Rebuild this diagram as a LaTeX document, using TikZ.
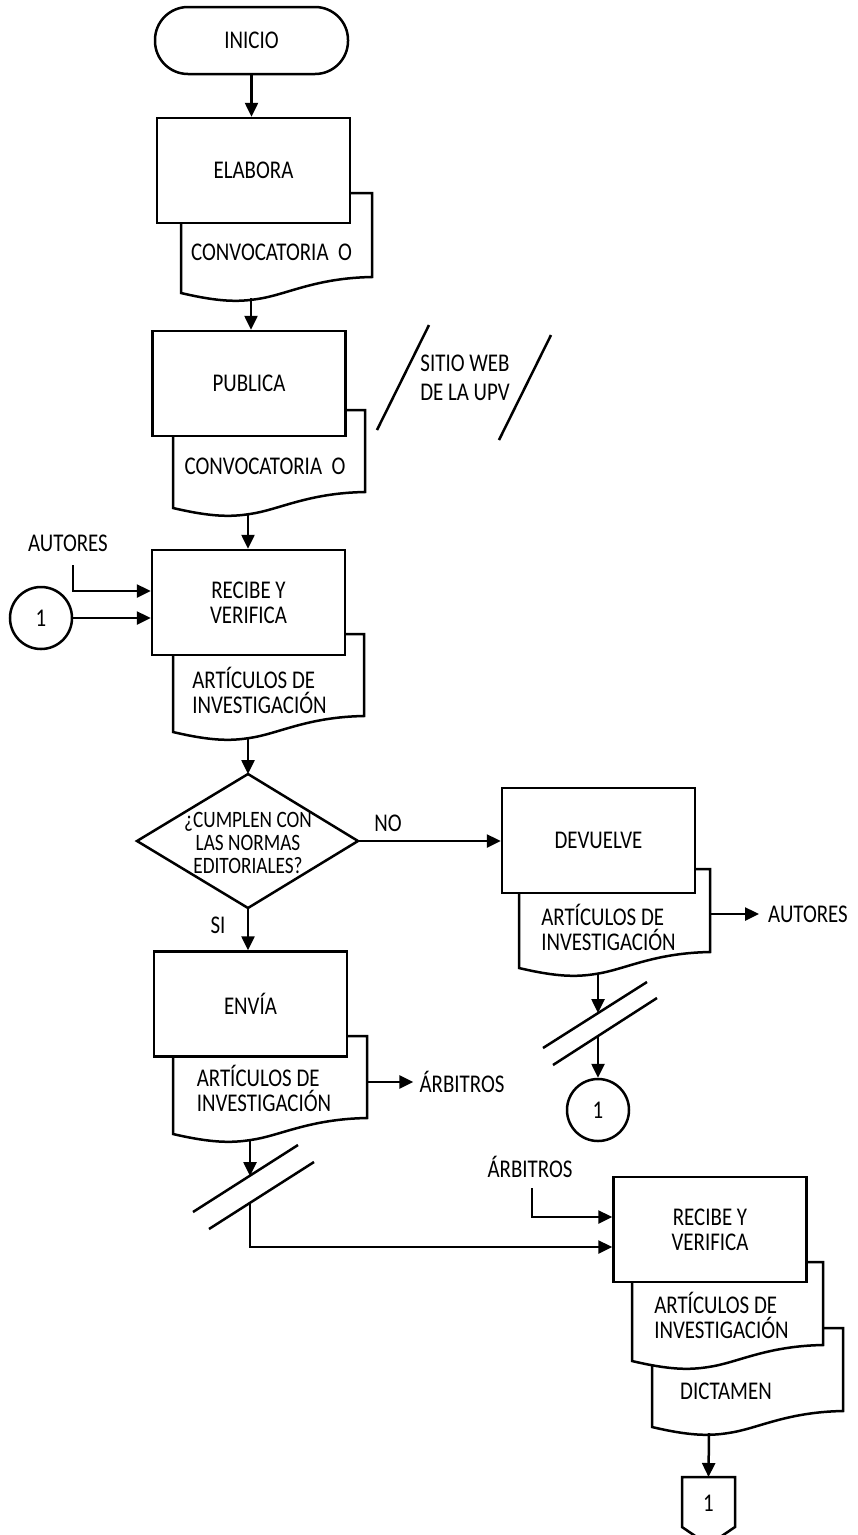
\documentclass[tikz,border=0pt]{standalone}
\usepackage{fontspec}
\setmainfont{Carlito}[FakeStretch=0.82]
\usetikzlibrary{arrows.meta}

% Document symbol: flat top, wavy bottom (left, top, right, bottom-left y)
\newcommand{\flowdoc}[4]{%
  \draw[shape line] (#1,#2) -- (#3,#2) -- (#3,#4-16)
    .. controls ({#1+0.7*(#3-#1)},#4-15) and ({#1+0.55*(#3-#1)},#4+2) .. ({#1+0.4*(#3-#1)},#4+6)
    .. controls ({#1+0.3*(#3-#1)},#4+9) and ({#1+0.2*(#3-#1)},#4+9) .. (#1,#4) -- cycle;
}

\begin{document}
\begin{tikzpicture}[x=1pt,y=-1pt,
  every node/.style={font=\fontsize{25.5}{25}\selectfont, inner sep=0pt},
  shape line/.style={draw=black, line width=2.5pt, fill=white, line join=miter},
  plain line/.style={draw=black, line width=2.5pt},
  flow/.style={plain line, -{Triangle[length=14pt,width=13pt]}},
  procbox/.style={shape line, rectangle, minimum width=193pt, minimum height=105pt, align=center},
  terminal/.style={shape line, rectangle, rounded corners=33pt, minimum width=193pt, minimum height=67pt},
  connector/.style={shape line, circle, minimum size=62pt},
  doctext/.style={align=left},
]
\useasboundingbox (0,0) rectangle (858,1535);

% ---------- start ----------
\node[terminal] (inicio) at (251.5,40.5) {INICIO};

% ---------- ELABORA ----------
\flowdoc{181}{193}{372}{293}
\node (conv1) at (271.5,252) {CONVOCATORIA\ \ O};
\node[procbox] (elabora) at (253.5,170.5) {ELABORA};
\coordinate (d1out) at (251,298);

% ---------- PUBLICA ----------
\flowdoc{173}{410}{365}{508}
\node (conv2) at (265,466) {CONVOCATORIA\ \ O};
\node[procbox] (publica) at (249,383.5) {PUBLICA};
\coordinate (d2out) at (248,513);

% web site (input/output symbol as two slanted strokes)
\draw[plain line] (429,325) -- (377,430);
\draw[plain line] (551,335) -- (499,440);
\node[align=center, font=\fontsize{25.5}{29}\selectfont] (web) at (465,377.5) {SITIO WEB\\DE LA UPV};

% ---------- RECIBE Y VERIFICA (1) ----------
\flowdoc{173}{634}{364}{732}
\node[doctext] (art1) at (259.5,690) {ARTÍCULOS DE\\INVESTIGACIÓN};
\node[procbox] (recibe1) at (248.5,602.5) {RECIBE Y\\VERIFICA};
\coordinate (d3out) at (248,737);

\node (autores1) at (68,543) {AUTORES};
\coordinate (a1) at (73,565);
\node[connector] (c1) at (41,618) {1};

% ---------- decision ----------
\coordinate (dt) at (248,774);
\coordinate (dr) at (358,841);
\coordinate (db) at (248,908);
\coordinate (dl) at (137,841);
\draw[shape line] (dt) -- (dr) -- (db) -- (dl) -- cycle;
\node[align=center, font=\fontsize{23.5}{23}\selectfont] (dec) at (248,843) {¿CUMPLEN CON\\LAS NORMAS\\EDITORIALES?};
\node (no) at (388,823) {NO};
\node (si) at (218,925) {SI};

% ---------- DEVUELVE ----------
\flowdoc{519}{869}{710}{968}
\node[doctext] (art2) at (608.5,927.5) {ARTÍCULOS DE\\INVESTIGACIÓN};
\node[procbox] (devuelve) at (598.5,840.5) {DEVUELVE};
\coordinate (d4r) at (710,914);
\coordinate (d4out) at (598,973);
\node (autores2) at (808,914) {AUTORES};

\draw[plain line] (543,1048) -- (647,982);
\draw[plain line] (553,1065) -- (657,998);
\coordinate (b1u) at (598,1013);
\coordinate (b1l) at (598,1036);
\node[connector] (c2) at (598,1110) {1};

% ---------- ENVÍA ----------
\flowdoc{173}{1036}{367}{1134}
\node[doctext] (art3) at (264,1088.5) {ARTÍCULOS DE\\INVESTIGACIÓN};
\node[procbox] (envia) at (250.5,1004) {ENVÍA};
\coordinate (d5r) at (367,1082);
\coordinate (d5out) at (250,1139);
\node (arb1) at (462,1082) {ÁRBITROS};

\draw[plain line] (193,1212) -- (298,1145);
\draw[plain line] (209,1229) -- (314,1162);
\coordinate (b2u) at (250,1176);
\coordinate (b2l) at (250,1203);

% ---------- RECIBE Y VERIFICA (2) ----------
\flowdoc{652}{1328}{843}{1427}
\node (dict) at (726,1391) {DICTAMEN};
\flowdoc{632}{1262}{823}{1361}
\node[doctext] (art4) at (721.5,1315) {ARTÍCULOS DE\\INVESTIGACIÓN};
\node[procbox] (recibe2) at (710,1229.5) {RECIBE Y\\VERIFICA};
\coordinate (d7out) at (709,1433);
\node (arb2) at (530,1167) {ÁRBITROS};
\coordinate (a2) at (532,1188);

% off-page connector
\draw[shape line] (682,1477) -- (735,1477) -- (735,1527) -- (708.5,1545) -- (682,1527) -- cycle;
\coordinate (optop) at (708.5,1477);
\node (op) at (708.5,1503) {1};

% ---------- connectors ----------
\draw[flow] (inicio.south) -- (inicio.south |- elabora.north);
\draw[flow] (d1out) -- (d1out |- publica.north);
\draw[flow] (d2out) -- (d2out |- recibe1.north);
\draw[flow] (a1) |- ([yshift=11.5pt]recibe1.west);
\draw[flow] (c1) -- (c1 -| recibe1.west);
\draw[flow] (d3out) -- (dt);
\draw[flow] (dr) -- (dr -| devuelve.west);
\draw[flow] (db) -- (db |- envia.north);
\draw[flow] (d4r) -- ([xshift=-9pt]autores2.west);
\draw[flow] (d4out) -- (b1u);
\draw[flow] (b1l) -- (c2.north);
\draw[flow] (d5r) -- ([xshift=-6pt]arb1.west);
\draw[flow] (d5out) -- (b2u);
\draw[flow] (b2l) |- ([yshift=-17.5pt]recibe2.west);
\draw[flow] (a2) |- ([yshift=12.5pt]recibe2.west);
\draw[flow] (d7out) -- (optop);
\end{tikzpicture}
\end{document}
